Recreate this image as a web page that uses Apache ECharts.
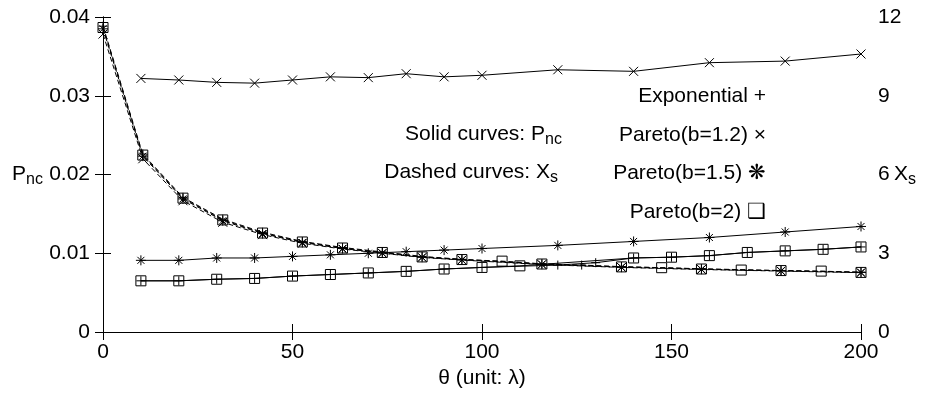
<!DOCTYPE html>
<html><head><meta charset="utf-8">
<script src="https://cdn.jsdelivr.net/npm/echarts@6/dist/echarts.min.js"></script>
<style>html,body{margin:0;padding:0;background:#fff}#c{width:925px;height:401px}</style>
</head><body><div id="c"></div>
<script>
// ---- data ----
// Solid curves: P_nc (left axis)
const thetaP12 = [10,20,30,40,50,60,70,80,90,100,120,140,160,180,200];
const pareto12Pnc = [0.0322,0.0320,0.0317,0.0316,0.0320,0.0324,0.0323,0.0328,0.0324,0.0326,0.0333,0.0331,0.0342,0.0344,0.0353];
const thetaP15 = [10,20,30,40,50,60,70,80,90,100,120,140,160,180,200];
const pareto15Pnc = [0.0091,0.0091,0.0094,0.0094,0.0096,0.0098,0.0100,0.0102,0.0104,0.0106,0.0110,0.0115,0.0120,0.0127,0.0134];
const thetaP2 = [10,20,30,40,50,60,70,80,90,100,110,140,150,160,170,180,190,200];
const pareto2Pnc = [0.0065,0.0065,0.0067,0.0068,0.0071,0.0073,0.0075,0.0077,0.0080,0.0082,0.0084,0.0094,0.0095,0.0097,0.0101,0.0103,0.0105,0.0108];
const thetaExp = [10,20,30,40,50,60,70,80,90,100,120,130,140,150,160,170,180,190,200];
const expPnc = [0.0065,0.0065,0.0067,0.0068,0.0071,0.0073,0.0075,0.0077,0.0080,0.0082,0.0085,0.0088,0.0094,0.0095,0.0097,0.0101,0.0103,0.0105,0.0108];

// Dashed curves: X_s (right axis)
const thetaDP2 = [0,10.5,21.1,31.6,42.1,52.6,63.2,73.7,84.2,94.7,105.3,115.8,136.8,147.4,157.9,168.4,178.9,189.5,200];
const pareto2Xs = [11.6,6.74,5.10,4.27,3.77,3.43,3.20,3.03,2.86,2.76,2.70,2.59,2.48,2.45,2.40,2.36,2.34,2.32,2.27];
const thetaDExp = [0,10.5,21.1,31.6,42.1,52.6,63.2,73.7,84.2,94.7,115.8,126.3,136.8,157.9,178.9,200];
const expXs = [11.65,6.78,5.13,4.30,3.80,3.45,3.22,3.05,2.88,2.77,2.60,2.55,2.49,2.41,2.34,2.28];
const thetaDP15 = [0,10.5,21.1,31.6,42.1,52.6,63.2,73.7,84.2,94.7,115.8,136.8,157.9,178.9,200];
const pareto15Xs = [11.55,6.70,5.07,4.24,3.75,3.41,3.18,3.01,2.85,2.75,2.58,2.47,2.39,2.33,2.27];
const thetaDP12 = [0,10.5,21.1,31.6,42.1,52.6,63.2,73.7,84.2,94.7,115.8,136.8,157.9,178.9,200];
const pareto12Xs = [11.35,6.60,5.00,4.18,3.71,3.38,3.16,3.00,2.84,2.74,2.57,2.46,2.38,2.32,2.26];

const xTicks = [0,50,100,150,200];
const leftTicks = ['0','0.01','0.02','0.03','0.04'];
const rightTicks = ['0','3','6','9','12'];

// ---- chart ----
const FONT = 'Liberation Sans, Arial, sans-serif';
const FS = 21, SFS = 16;
const SYM = {
  plus: 'path://M0,5L10,5M5,0L5,10',
  cross: 'path://M0,0L10,10M10,0L0,10',
  star: 'path://M5,0L5,10M0,5L10,5M1.5,1.5L8.5,8.5M8.5,1.5L1.5,8.5',
  square: 'path://M0,0L10,0L10,10L0,10Z'
};
const zip = (xs, ys) => xs.map((x, i) => [x, ys[i]]);
function mk(name, xs, ys, sym, size, dashed, yIdx) {
  return {
    name, type: 'line', xAxisIndex: 0, yAxisIndex: yIdx,
    data: zip(xs, ys), symbol: SYM[sym], symbolSize: size, showAllSymbol: true,
    symbolKeepAspect: true,
    itemStyle: {color: 'rgba(0,0,0,0)', borderColor: '#000', borderWidth: 1},
    lineStyle: {color: '#000', width: 1, type: dashed ? [5, 3] : 'solid'},
    emphasis: {disabled: true}, animation: false, z: 3
  };
}
const chart = echarts.init(document.getElementById('c'), null, {renderer: 'canvas'});
const axisCommon = {
  axisLine: {show: true, lineStyle: {color: '#000', width: 1}},
  axisTick: {show: true, inside: true, length: 8, lineStyle: {color: '#000', width: 1}},
  splitLine: {show: false},
  axisLabel: {color: '#000', fontSize: FS, fontFamily: FONT}
};
const txt = (pos, text, size) => Object.assign({type: 'text', style: {text, fontSize: size, fontFamily: FONT, fill: '#000'}}, pos);
chart.setOption({
  animation: false,
  backgroundColor: '#fff',
  grid: {left: 103, right: 64, top: 17, bottom: 69, containLabel: false},
  xAxis: [
    Object.assign({}, axisCommon, {type: 'value', min: 0, max: 200, interval: 50, position: 'bottom',
      axisLabel: Object.assign({}, axisCommon.axisLabel, {margin: 10, formatter: v => String(xTicks[xTicks.indexOf(v)])}),
      name: 'θ (unit: λ)', nameLocation: 'middle', nameGap: 34,
      nameTextStyle: {color: '#000', fontSize: FS, fontFamily: FONT}}),
    Object.assign({}, axisCommon, {type: 'value', min: 0, max: 200, interval: 50, position: 'top',
      axisLabel: {show: false}})
  ],
  yAxis: [
    Object.assign({}, axisCommon, {type: 'value', min: 0, max: 0.04, interval: 0.01, position: 'left',
      axisLabel: Object.assign({}, axisCommon.axisLabel, {margin: 13, formatter: v => leftTicks[Math.round(v / 0.01)]})}),
    Object.assign({}, axisCommon, {type: 'value', min: 0, max: 12, interval: 3, position: 'right',
      axisLabel: Object.assign({}, axisCommon.axisLabel, {margin: 17, formatter: v => rightTicks[Math.round(v / 3)]})})
  ],
  series: [
    mk('Pareto(b=2) Pnc', thetaP2, pareto2Pnc, 'square', 10, false, 0),
    mk('Exponential Pnc', thetaExp, expPnc, 'plus', 9, false, 0),
    mk('Pareto(b=1.5) Pnc', thetaP15, pareto15Pnc, 'star', 10, false, 0),
    mk('Pareto(b=1.2) Pnc', thetaP12, pareto12Pnc, 'cross', 9, false, 0),
    mk('Pareto(b=2) Xs', thetaDP2, pareto2Xs, 'square', 10, true, 1),
    mk('Exponential Xs', thetaDExp, expXs, 'plus', 9, true, 1),
    mk('Pareto(b=1.5) Xs', thetaDP15, pareto15Xs, 'star', 10, true, 1),
    mk('Pareto(b=1.2) Xs', thetaDP12, pareto12Xs, 'cross', 9, true, 1)
  ],
  graphic: [
    txt({left: 12, top: 164}, 'P', FS),
    txt({left: 26, top: 172}, 'nc', SFS),
    txt({left: 894, top: 164}, 'X', FS),
    txt({left: 908, top: 172}, 's', SFS),
    txt({right: 925 - 545, top: 124}, 'Solid curves: P', FS),
    txt({left: 545, top: 132}, 'nc', SFS),
    txt({right: 925 - 550, top: 162}, 'Dashed curves: X', FS),
    txt({left: 550, top: 170}, 's', SFS),
    txt({right: 925 - 766, top: 86}, 'Exponential +', FS),
    txt({right: 925 - 766, top: 125}, 'Pareto(b=1.2) ×', FS),
    txt({right: 925 - 766, top: 163}, 'Pareto(b=1.5) ❋', FS),
    txt({right: 925 - 766, top: 202}, 'Pareto(b=2) ❑', FS)
  ]
});
</script></body></html>
